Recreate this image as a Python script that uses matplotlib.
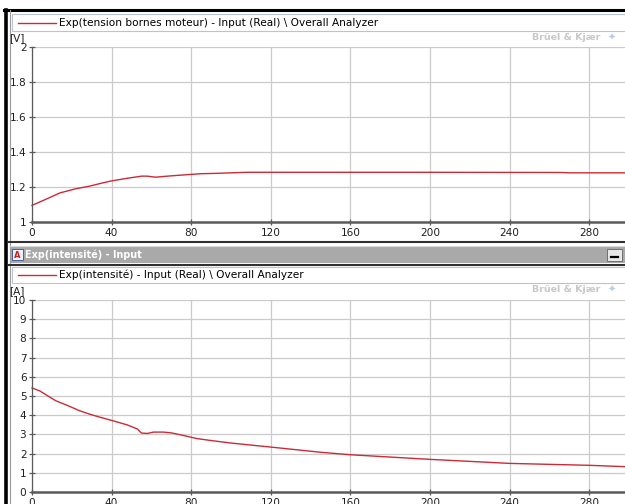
import matplotlib
matplotlib.use("Agg")
import matplotlib.pyplot as plt
from matplotlib.patches import Rectangle
from matplotlib.lines import Line2D

# ---- data ----
t_volt = [0, 3, 7, 14, 22, 29, 35, 40, 48, 55, 58, 62, 68, 75, 85, 93, 100, 108, 130, 200, 266, 270, 298]
volt = [1.095, 1.11, 1.13, 1.166, 1.19, 1.205, 1.222, 1.235, 1.25, 1.262, 1.262, 1.256, 1.262,
        1.268, 1.276, 1.278, 1.281, 1.284, 1.284, 1.284, 1.283, 1.281, 1.281]

t_cur = [0, 4, 8, 12, 18, 24, 30, 34, 41, 48, 53, 55, 58, 61, 66, 70, 75, 83, 90, 100,
         120, 145, 160, 200, 240, 280, 298]
cur = [5.42, 5.26, 5.0, 4.75, 4.5, 4.23, 4.02, 3.9, 3.7, 3.49, 3.28, 3.07, 3.05, 3.12, 3.12,
       3.08, 2.97, 2.78, 2.68, 2.55, 2.34, 2.07, 1.94, 1.70, 1.49, 1.39, 1.32]

x_ticks = [0, 40, 80, 120, 160, 200, 240, 280]
v_ticks = [1, 1.2, 1.4, 1.6, 1.8, 2]
v_labels = ["1", "1.2", "1.4", "1.6", "1.8", "2"]
a_ticks = list(range(0, 11))

legend_v = "Exp(tension bornes moteur) - Input (Real) \\ Overall Analyzer"
legend_a = "Exp(intensité) - Input (Real) \\ Overall Analyzer"
title_a = "Exp(intensité) - Input"
unit_v = "[V]"
unit_a = "[A]"
brand = "Brüel & Kjær"

W, H = 625, 504
plt.rcParams['font.family'] = ['DejaVu Sans']
fig = plt.figure(figsize=(W / 100, H / 100), dpi=100)
fig.patch.set_facecolor("white")

def fx(px):
    return px / W

def fy(py):
    return 1 - py / H

def rect(x0, y0, x1, y1, **kw):
    fig.patches.append(Rectangle((fx(x0), fy(y1)), fx(x1) - fx(x0), fy(y0) - fy(y1),
                                 transform=fig.transFigure, **kw))

def hline(y, x0, x1, **kw):
    fig.lines.append(Line2D([fx(x0), fx(x1)], [fy(y), fy(y)], transform=fig.transFigure, **kw))

def vline(x, y0, y1, **kw):
    fig.lines.append(Line2D([fx(x), fx(x)], [fy(y0), fy(y1)], transform=fig.transFigure, **kw))

RED = "#cc2a36"
GRID = "#cbcbcb"
AX = "#5a5a5a"
TXT = "#202020"
FS = 7.6

# outer window frame
hline(10, 4, W, color="black", lw=2.2)
vline(6, 10, H, color="black", lw=2.6)
vline(9.5, 10, H, color="#9a9a9a", lw=0.8)

# top legend box
rect(12, 14, W + 2, 31, facecolor="white", edgecolor="#b8c4d0", lw=0.8)
hline(22.5, 18, 56, color=RED, lw=1.0)
fig.text(fx(59), fy(22.5), legend_v, fontsize=FS, color="black", va="center", ha="left")
fig.text(fx(600), fy(38), brand, fontsize=6.8, color="#c8c8c8", fontweight="bold",
         va="center", ha="right")
fig.text(fx(612), fy(38), "\u2726", fontsize=7, color="#b8cce8", va="center", ha="center")
fig.text(fx(9), fy(38), unit_v, fontsize=FS, color=TXT, va="center", ha="left")


def style_axes(ax, yticks, ylabels, ylim):
    ax.set_xlim(0, 298)
    ax.set_ylim(*ylim)
    ax.set_xticks(x_ticks)
    ax.set_yticks(yticks)
    ax.set_yticklabels(ylabels)
    ax.grid(True, color=GRID, lw=0.9)
    ax.set_axisbelow(True)
    for s in ["top", "right"]:
        ax.spines[s].set_visible(False)
    ax.spines["left"].set_color(AX)
    ax.spines["left"].set_linewidth(0.9)
    ax.spines["bottom"].set_color(AX)
    ax.spines["bottom"].set_linewidth(1.8)
    ax.tick_params(axis="both", direction="inout", length=5, width=0.9, color=AX,
                   labelsize=FS, labelcolor=TXT, pad=1.5)
    ax.tick_params(axis="x", pad=2.0)


# top axes
ax1 = fig.add_axes([fx(32), fy(222), fx(W) - fx(32), fy(47) - fy(222)])
ax1.plot(t_volt, volt, color=RED, lw=1.0, clip_on=False)
style_axes(ax1, v_ticks, v_labels, (1, 2))

# separator and title bar of second window
hline(242, 8, W, color="#303030", lw=1.5)
rect(10, 246, W + 2, 263, facecolor="#a9a9a9", edgecolor="none")
hline(246, 10, W, color="#d8d8d8", lw=0.8)
hline(264.5, 8, W, color="#303030", lw=1.5)
rect(12, 249, 23, 260, facecolor="#eef2fa", edgecolor="#4060a0", lw=0.7)
fig.text(fx(17.5), fy(255), "A", fontsize=6, color="#cc2020", fontweight="bold",
         ha="center", va="center")
fig.text(fx(25), fy(255), title_a, fontsize=6.9, color="white", fontweight="bold",
         va="center", ha="left")
rect(607, 249, 622, 261, facecolor="#e8e8e8", edgecolor="#707070", lw=0.7)
hline(257, 611, 618, color="black", lw=1.6)

# bottom legend box
rect(12, 267, W + 2, 283, facecolor="white", edgecolor="#b8c4d0", lw=0.8)
hline(275, 18, 56, color=RED, lw=1.0)
fig.text(fx(59), fy(275), legend_a, fontsize=FS, color="black", va="center", ha="left")
fig.text(fx(600), fy(290), brand, fontsize=6.8, color="#c8c8c8", fontweight="bold",
         va="center", ha="right")
fig.text(fx(612), fy(290), "\u2726", fontsize=7, color="#b8cce8", va="center", ha="center")
fig.text(fx(9), fy(291), unit_a, fontsize=FS, color=TXT, va="center", ha="left")

# bottom axes
ax2 = fig.add_axes([fx(32), fy(492), fx(W) - fx(32), fy(300) - fy(492)])
ax2.plot(t_cur, cur, color=RED, lw=1.0, clip_on=False)
style_axes(ax2, a_ticks, [str(v) for v in a_ticks], (0, 10))

fig.savefig("out.png", dpi=100, facecolor="white")
